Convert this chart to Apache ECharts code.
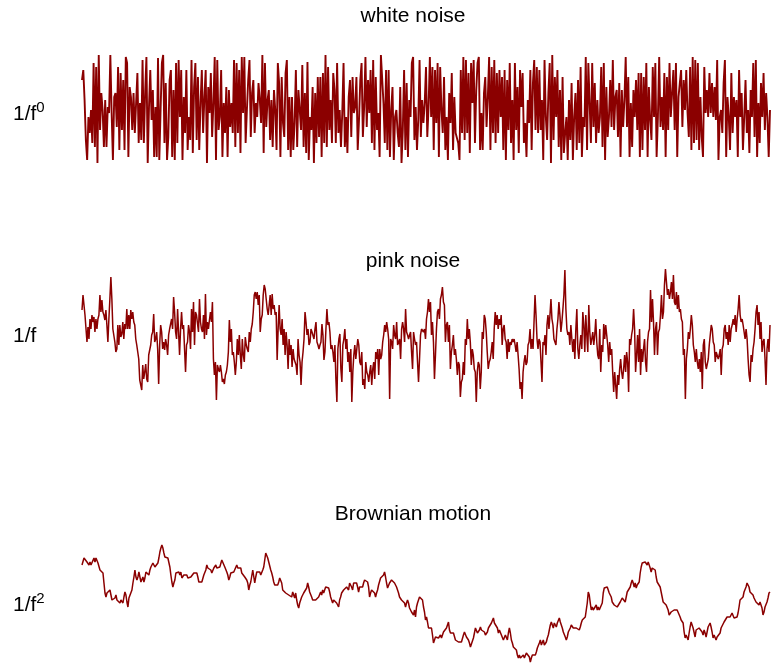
<!DOCTYPE html>
<html>
<head>
<meta charset="utf-8">
<script src="https://cdn.jsdelivr.net/npm/echarts@6/dist/echarts.min.js"></script>
<style>
  html, body { margin: 0; padding: 0; background: #fff; }
  #chart { width: 771px; height: 666px; }
</style>
</head>
<body>
<div id="chart"></div>
<script>
// Three noise traces: white (1/f^0), pink (1/f) and Brownian (1/f^2)
const whiteNoise = [
  29,39,9,-31,-51,-8,-24,-1,-34,46,-38,42,-54,54,-21,16,-1,-38,9,-38,2,-4,54,-4,-51,12,16,-18,42,-41,36,-21,29,-41,52,46,-48,22,12,-21,16,-24,6,36,-34,6,-31,49,-34,16,52,-54,2,39,-11,19,-48,2,-48,51,-51,-1,46,54,-34,26,-51,-28,29,39,-48,19,-51,46,-34,49,-8,39,-51,12,-24,39,-41,-8,-31,49,-44,22,46,-31,32,-41,6,39,-24,12,39,-54,22,-4,36,-28,6,52,-51,49,-21,-8,39,-48,6,-24,22,-48,19,-18,6,-24,49,-38,46,-24,39,-44,52,-4,52,-34,-1,29,49,-28,16,29,-24,6,-8,26,
  9,-14,54,-44,46,-18,9,19,-31,9,-38,19,-1,-41,46,26,-48,32,-14,-28,36,49,-41,12,-48,12,-41,-14,39,-38,19,-1,-21,44,-38,16,-44,47,-51,-8,-21,22,-54,16,-34,32,-28,32,-48,36,-34,54,-38,42,-21,9,-34,36,19,-34,46,-24,-1,-38,-4,46,-38,-8,-44,12,29,-28,32,-4,2,32,-41,-11,29,46,-28,2,52,-18,29,-4,39,-34,49,-41,32,-21,-4,-48,54,52,6,-34,39,-41,39,-48,-1,22,-51,-8,-1,-24,-38,22,-54,-21,39,-41,26,-48,9,-8,46,52,-31,2,-41,-11,49,-28,9,-14,6,42,-28,2,
  52,-8,42,-41,39,-14,46,-48,42,-1,-24,32,-41,-8,-51,16,-14,36,-41,12,-24,-24,-34,-51,39,-24,52,-31,49,-24,36,-44,46,6,49,-34,19,46,52,-41,-4,-41,16,32,-18,12,52,-41,42,-24,49,-34,36,-24,39,-8,32,-41,39,-51,29,-21,46,-34,9,-51,46,-21,22,-44,39,2,36,-34,-14,-48,9,-14,39,-41,26,49,-21,42,-24,39,-21,9,-51,49,-8,-31,16,46,-54,54,-31,32,-8,39,-38,19,-51,32,-44,-24,-8,-51,9,-31,26,-51,-8,16,-41,29,-34,42,-48,-8,-18,52,-41,46,6,-34,46,-18,26,-34,9,-24,
  -8,42,-38,46,-51,22,-28,-8,29,-18,49,-21,12,19,-28,26,-48,19,-18,9,52,-18,32,-48,6,-38,19,-8,29,-21,36,-48,36,-41,32,-21,46,-48,22,-11,-31,42,-8,46,-48,-8,52,-18,12,-21,36,-48,32,-21,46,-8,16,39,-21,46,-48,12,26,39,-18,29,-1,39,-4,-28,42,-41,52,-34,49,-31,46,-41,12,-28,-48,42,-4,19,-8,36,-4,26,-8,22,-11,49,-51,-8,-1,-24,26,49,-48,12,-8,-41,36,-24,12,-8,9,-48,39,-8,16,-41,-8,29,-24,-1,-44,19,-8,46,-28,49,-48,6,-34,26,-8,36,-21,16,-8,-48,-1
];

const pinkNoise = [
  25,40,40,20,20,-7,8,-4,16,6,20,13,18,3,16,6,16,20,40,23,35,23,20,15,25,10,-7,16,36,58,36,6,5,-7,-17,-14,10,-10,10,-2,1,13,-4,11,6,26,6,20,6,25,16,23,13,10,-4,-10,-17,-24,-45,-47,-55,-30,-44,-37,-29,-44,-47,-20,-19,-10,0,3,21,-7,-4,3,-14,-49,-10,10,3,-14,-7,-15,-4,-10,-20,0,6,6,16,6,38,23,3,-4,26,3,-20,6,23,6,10,-14,-37,-10,-7,10,3,-14,26,3,33,-10,23,20,20,3,36,13,6,3,20,-4,41,0,13,6,15,23,13,33,-24,-40,-27,-65,-30,-34,-37,-30,-37,-47,-44,-49,-40,-37,-30,-17,15,-7,6,-20,-17,-27,-40,-27,-4,-20,0,-20,-34,-4,-20,-27,-2,-10,-14,-17,3,-7,6,11,23,40,43,
  36,43,30,40,3,16,20,40,50,46,36,26,20,30,40,20,41,26,30,20,23,-25,6,30,6,0,16,-10,6,-20,3,-10,-34,-4,-20,-10,-32,-14,-24,-27,-30,-40,-4,-20,-27,-50,-27,-17,-4,23,13,0,6,-10,-7,6,3,5,-4,6,13,-7,-10,-14,-10,-7,11,0,-25,-17,6,26,10,13,3,-14,-10,-17,-27,-10,-44,-67,-14,-4,1,-34,-47,-10,-4,6,-14,-4,-27,-17,-37,-14,-67,-37,-20,-10,-24,-14,-4,-10,-27,-30,-17,-50,-44,-54,-27,-37,-40,-47,-37,-30,-50,-34,-27,-44,-17,-24,-14,-40,-14,-24,-20,-7,0,10,3,13,6,-4,-64,-4,-7,-14,10,0,-4,13,-10,-7,-4,-24,6,13,6,-7,26,3,0,-4,0,3,-17,-34,3,-4,-10,-7,-27,-47,-24,0,6,6,3,6,-4,16,
  23,36,23,33,0,13,-7,-44,-20,6,23,26,16,36,40,48,33,30,-7,10,13,-7,10,-34,-17,-10,0,-20,-14,-24,-40,-27,-30,-62,-47,-44,-27,-40,-4,-10,16,-4,6,-7,-30,-14,-20,-34,-37,-67,-37,-27,-30,-54,-37,3,-4,20,16,3,-17,-34,-27,-24,-17,-7,-24,6,23,10,20,6,16,10,20,-10,6,10,-4,-7,-24,-4,-17,-7,-10,-4,-7,-4,-10,-17,-7,-20,-34,-54,-47,-64,-37,-27,-20,-30,-27,-10,-7,6,-14,-4,-14,13,40,20,-4,-14,-4,-7,-27,-47,-7,-10,0,-20,10,20,6,20,36,16,10,-4,-7,-10,6,16,33,20,3,13,26,40,65,26,6,0,3,-10,10,-4,-17,-4,-24,6,26,-14,-24,-10,0,-14,23,10,-17,20,0,-17,30,3,-10,-4,3,-10,0,16,-7,-20,
  -24,6,-37,-10,-17,11,-4,10,0,-10,-27,-7,-20,-14,-37,-57,-37,-50,-64,-40,-50,-34,-24,-37,-44,-34,-20,-37,-17,-27,-57,-4,-10,0,6,26,6,-37,-20,0,-27,6,-40,-14,-27,-14,-4,-27,-37,-7,3,6,45,13,36,13,-20,6,13,-20,3,6,20,40,16,23,50,66,53,40,46,36,43,53,36,60,33,30,43,26,40,23,26,16,13,-20,-14,-64,-24,-14,3,-4,6,20,10,-10,-17,-27,-14,-27,-34,-24,-37,-17,-54,-10,-4,-27,-34,-34,-24,-10,-10,10,6,-7,-10,-27,-17,-17,-24,-20,-14,-40,-14,-10,6,10,-4,3,-10,10,-7,6,10,16,10,20,3,16,26,40,20,13,16,10,3,-4,6,-4,-24,-40,-47,-20,-27,-14,-7,6,23,30,10,23,-4,13,-17,-7,-4,-24,-50,-14,-4,-17,10
];

const brownianMotion = [
  39,41,46,47,44,42,44,39,42,39,37,41,46,42,46,44,41,39,34,32,34,31,21,11,7,11,9,11,14,9,4,6,4,6,9,4,2,4,1,4,2,1,7,12,9,2,-3,6,7,6,14,21,27,34,27,24,27,32,27,22,22,27,22,26,32,31,32,29,34,37,39,41,39,37,36,37,41,46,52,56,59,56,51,47,46,47,46,47,37,29,22,17,21,24,31,32,29,32,29,32,26,24,29,31,27,29,26,27,26,27,29,29,31,29,32,31,27,22,21,22,22,24,29,31,34,39,36,37,36,34,31,32,36,37,39,36,37,36,37,39,44,46,42,37,36,32,29,24,27,31,32,31,32,34,32,39,36,36,34,36,31,32,31,27,27,24,21,14,19,22,24,34,34,
  21,27,32,34,31,32,29,27,34,37,44,51,49,46,42,41,34,31,27,22,19,17,21,19,22,26,27,21,14,12,14,11,9,11,9,7,9,7,12,9,6,11,4,-1,-4,1,4,7,9,11,9,12,16,21,17,12,11,7,4,6,2,4,6,4,7,9,12,9,14,11,12,17,19,17,16,12,7,4,1,4,2,4,1,2,-3,4,7,11,11,14,16,14,17,19,14,21,22,17,14,21,19,22,21,17,12,17,16,19,17,21,24,26,24,22,17,7,11,14,14,12,11,7,11,14,19,21,26,27,26,29,32,27,21,16,17,21,19,24,24,22,21,21,17,16,11,7,6,4,6,2,1,-3,1,4,1,-4,-6,-8,-6,-11,-6,-13,-3,1,4,7,6,7,4,-3,-8,-16,
  -13,-18,-24,-23,-26,-24,-31,-39,-36,-33,-34,-33,-34,-33,-31,-34,-31,-28,-26,-29,-24,-23,-18,-26,-29,-31,-28,-29,-31,-36,-38,-34,-38,-39,-38,-38,-36,-31,-28,-29,-33,-34,-36,-39,-43,-44,-41,-34,-29,-24,-26,-29,-29,-26,-23,-26,-24,-26,-28,-31,-29,-28,-24,-26,-23,-19,-18,-14,-19,-21,-19,-24,-29,-26,-28,-31,-33,-36,-34,-31,-33,-36,-29,-24,-29,-36,-39,-43,-41,-44,-46,-51,-54,-51,-54,-56,-53,-51,-54,-53,-49,-51,-49,-53,-58,-54,-51,-53,-49,-51,-48,-44,-46,-39,-36,-41,-39,-36,-41,-43,-38,-34,-31,-26,-21,-18,-19,-24,-19,-21,-23,-19,-18,-14,-18,-19,-24,-28,-29,-33,-36,-33,-28,-26,-24,-21,-23,-24,-23,-26,-24,-26,-24,-26,-23,-19,-16,-16,-14,-13,-6,1,12,9,1,-6,-3,-6,-4,-6,-1,-6,
  -3,-6,-4,-6,1,11,16,17,16,17,14,11,9,7,2,4,-1,-3,-1,-3,-1,-3,2,4,6,7,4,2,7,12,14,11,17,21,24,21,17,21,16,19,21,22,31,37,41,42,41,42,41,39,42,39,36,32,36,34,37,34,27,22,24,21,17,12,7,2,1,1,-1,-3,-6,-11,-13,-8,-6,-9,-6,-4,-8,-6,-4,-8,-13,-16,-14,-19,-28,-34,-31,-29,-36,-29,-23,-18,-21,-24,-26,-33,-26,-24,-26,-24,-26,-23,-28,-31,-26,-29,-33,-28,-23,-21,-19,-23,-28,-34,-31,-33,-36,-33,-31,-33,-29,-24,-26,-23,-18,-19,-16,-13,-14,-11,-13,-11,-9,-11,-14,-13,-14,-13,-9,-3,4,6,2,7,12,14,17,21,19,17,12,14,11,9,6,4,2,4,1,-1,2,2,-4,-11,-8,-3,-3,2,6,11,12
];

// Panel headings and left-hand labels
const panelTitles = ['white noise', 'pink noise', 'Brownian motion'];
const exponentLabels = ['0', '', '2'];

const lineColor = '#8b0000';
const fontFamily = 'Arimo, "Liberation Sans", Arial, Helvetica, sans-serif';

const panels = [
  { data: whiteNoise,     top: 53,  height: 112, lim: 56, width: 1.9, titleY: 16,  labelY: 114 },
  { data: pinkNoise,      top: 265, height: 140, lim: 70, width: 1.5, titleY: 261, labelY: 336 },
  { data: brownianMotion, top: 542, height: 124, lim: 62, width: 1.5, titleY: 514, labelY: 605 }
];

const grids = [], xAxes = [], yAxes = [], series = [], graphics = [];
panels.forEach((p, i) => {
  grids.push({ left: 82, right: 1, top: p.top, height: p.height });
  xAxes.push({
    type: 'category', gridIndex: i, boundaryGap: false,
    data: p.data.map((_, k) => k), show: false
  });
  yAxes.push({ type: 'value', gridIndex: i, min: -p.lim, max: p.lim, show: false });
  series.push({
    type: 'line', xAxisIndex: i, yAxisIndex: i, data: p.data,
    symbol: 'none', silent: true,
    lineStyle: { color: lineColor, width: p.width }
  });
  graphics.push({
    type: 'text', x: 413, y: p.titleY,
    style: {
      text: panelTitles[i], fill: '#000', font: '21px ' + fontFamily,
      align: 'center', verticalAlign: 'middle'
    }
  });
  const sup = exponentLabels[i];
  graphics.push({
    type: 'text', x: 13, y: p.labelY,
    style: {
      text: sup ? '{b|1/f}{s|' + sup + '}' : '{b|1/f}',
      align: 'left', verticalAlign: 'middle',
      rich: {
        b: { fontSize: 21, fontFamily: fontFamily, fill: '#000', color: '#000' },
        s: { fontSize: 15, fontFamily: fontFamily, fill: '#000', color: '#000',
             verticalAlign: 'top', padding: [0, 0, 12, 0] }
      }
    }
  });
});

const chart = echarts.init(document.getElementById('chart'), null, { renderer: 'canvas' });
chart.setOption({
  animation: false,
  backgroundColor: '#fff',
  grid: grids,
  xAxis: xAxes,
  yAxis: yAxes,
  series: series,
  graphic: graphics
});
</script>
</body>
</html>
